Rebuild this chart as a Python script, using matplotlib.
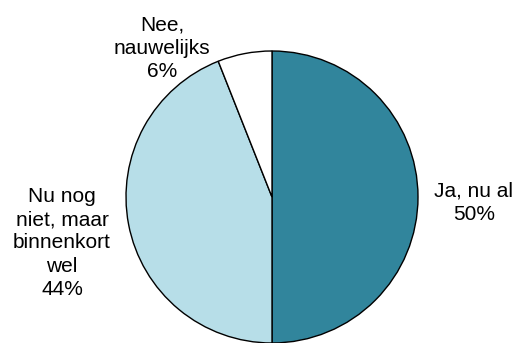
import matplotlib
matplotlib.use("Agg")
import matplotlib.pyplot as plt

labels = ["Ja, nu al", "Nu nog\nniet, maar\nbinnenkort\nwel", "Nee,\nnauwelijks"]
values = [50, 44, 6]
colors = ["#31859C", "#B7DEE8", "#FFFFFF"]

W, H = 517, 343
fig = plt.figure(figsize=(W / 100, H / 100), dpi=100)
cx, cy, r = 272, 197, 146
ax = fig.add_axes([(cx - r) / W, (H - cy - r) / H, 2 * r / W, 2 * r / H])

wedges, _ = ax.pie(values, colors=colors, startangle=90, counterclock=False,
                   radius=1, wedgeprops=dict(edgecolor="black", linewidth=1.0))
ax.set_xlim(-1, 1)
ax.set_ylim(-1, 1)
ax.set_aspect("equal")
ax.axis("off")
for w in wedges:
    w.set_clip_on(False)

def px(x, y):
    return ((x - cx) / r, (cy - y) / r)

positions = [(474, 203), (62, 243), (162, 48)]
for lab, v, (x, y) in zip(labels, values, positions):
    dx, dy = px(x, y)
    ax.text(dx, dy, f"{lab}\n{v}%", ha="center", va="center", fontsize=15,
            family="Liberation Sans", linespacing=1.27, color="black")

fig.savefig("out.png", dpi=100)
